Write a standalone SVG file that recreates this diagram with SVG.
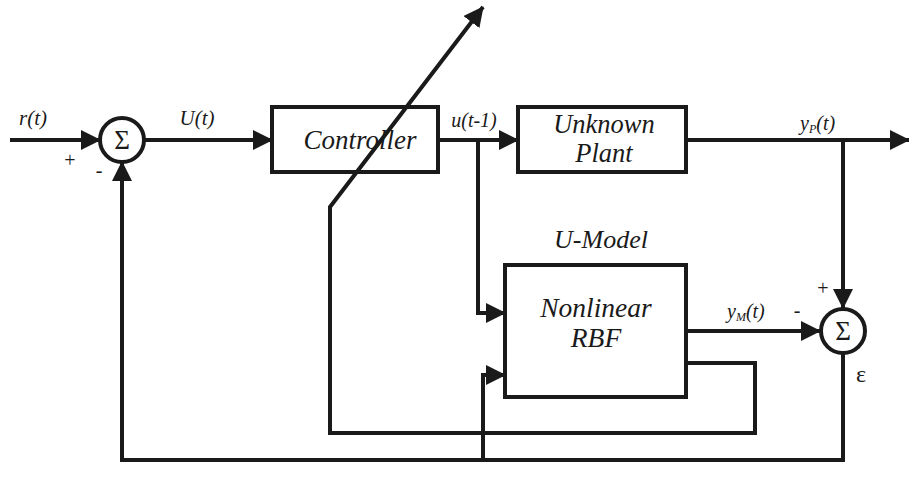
<svg xmlns="http://www.w3.org/2000/svg" width="909" height="483" viewBox="0 0 909 483">
<style>
.ln{fill:none;stroke:#1a1a1a;stroke-width:4;stroke-linejoin:miter}
.box{fill:#fff;stroke:#1a1a1a;stroke-width:4}
</style>
<defs>
<marker id="ah" markerUnits="userSpaceOnUse" markerWidth="20" markerHeight="20" viewBox="0 0 20 20" refX="19" refY="10" orient="auto">
<path d="M0,0 L20,10 L0,20 Z" fill="#1a1a1a"/>
</marker>
</defs>
<g font-family="Liberation Serif, DejaVu Serif, serif" fill="#1a1a1a">
<g id="sum1">
<circle cx="122" cy="140" r="22" class="box"/>
<text x="122" y="149" font-size="27" text-anchor="middle">Σ</text>
</g>
<g id="controller">
<rect x="272" y="107" width="166" height="65" class="box"/>
<text x="360" y="149" font-style="italic" font-size="27" text-anchor="middle">Controller</text>
</g>
<g id="plant">
<rect x="518" y="107" width="168" height="65" class="box"/>
<text x="604" y="133" font-style="italic" font-size="26.5" text-anchor="middle">Unknown</text>
<text x="604" y="162" font-style="italic" font-size="26.5" text-anchor="middle">Plant</text>
</g>
<g id="model">
<rect x="505" y="265" width="181" height="132" class="box"/>
<text x="601" y="248" font-style="italic" font-size="26" text-anchor="middle">U-Model</text>
<text x="596" y="317" font-style="italic" font-size="27.5" text-anchor="middle">Nonlinear</text>
<text x="596" y="347" font-style="italic" font-size="27.5" text-anchor="middle">RBF</text>
</g>
<g id="sum2">
<circle cx="843" cy="331" r="22" class="box"/>
<text x="843" y="340" font-size="27" text-anchor="middle">Σ</text>
</g>
<g id="connectors">
<path class="ln" d="M10,140 H100" marker-end="url(#ah)"/>
<path class="ln" d="M144,140 H272" marker-end="url(#ah)"/>
<path class="ln" d="M438,140 H518" marker-end="url(#ah)"/>
<path class="ln" d="M686,140 H909" marker-end="url(#ah)"/>
<path class="ln" d="M478,140 V313 H505" marker-end="url(#ah)"/>
<path class="ln" d="M843,140 V308" marker-end="url(#ah)"/>
<path class="ln" d="M686,331 H820" marker-end="url(#ah)"/>
<path class="ln" d="M686,363 H755 V433 H330 V207 L483,7" marker-end="url(#ah)"/>
<path class="ln" d="M843,354 V460 H122 V162" marker-end="url(#ah)"/>
<path class="ln" d="M483,460 V375 H505" marker-end="url(#ah)"/>
</g>
<g id="labels">
<text x="33" y="125" font-style="italic" font-size="21" text-anchor="middle">r(t)</text>
<text x="197" y="125" font-style="italic" font-size="21" text-anchor="middle">U(t)</text>
<text x="474" y="127" font-style="italic" font-size="20" text-anchor="middle">u(t-1)</text>
<text x="800" y="130" font-style="italic" font-size="20">y<tspan font-size="12" dy="3">P</tspan><tspan dy="-3">(t)</tspan></text>
<text x="727" y="318" font-style="italic" font-size="20">y<tspan font-size="12" dy="3">M</tspan><tspan dy="-3">(t)</tspan></text>
<text x="70" y="167" font-size="20" text-anchor="middle">+</text>
<text x="99" y="177" font-size="20" text-anchor="middle">-</text>
<text x="823" y="295" font-size="20" text-anchor="middle">+</text>
<text x="797" y="317" font-size="20" text-anchor="middle">-</text>
<text x="861" y="382" font-size="24" text-anchor="middle">ε</text>
</g>
</g>
</svg>
